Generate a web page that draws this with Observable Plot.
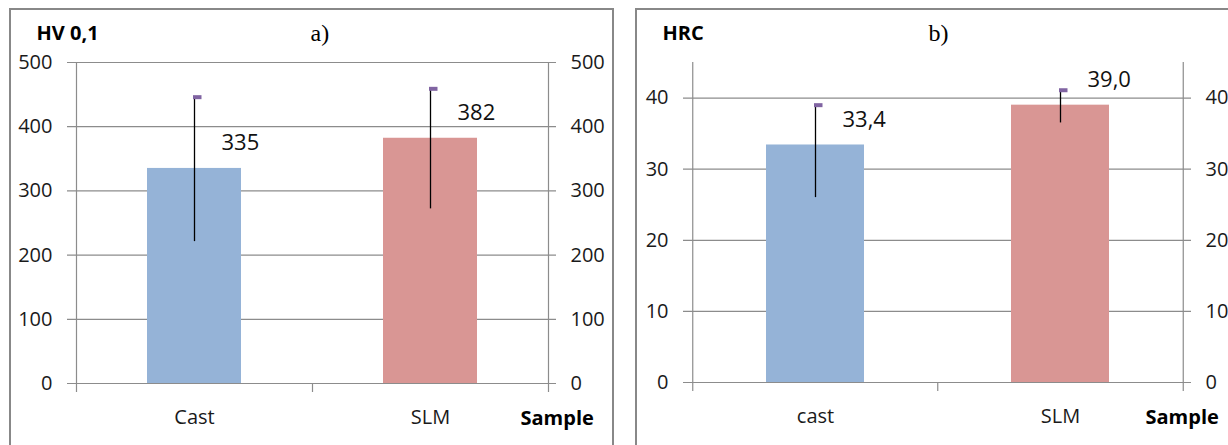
<!DOCTYPE html>
<html><head><meta charset="utf-8">
<script src="https://cdn.jsdelivr.net/npm/d3@7"></script>
<script src="https://cdn.jsdelivr.net/npm/@observablehq/plot@0.6"></script>
<style>
html,body{margin:0;padding:0;background:#fff;overflow:hidden;width:1228px;height:445px;}
#wrap{position:relative;width:1228px;height:445px;overflow:hidden;}
.panel{position:absolute;border:2px solid #888;box-sizing:border-box;}
.chart{position:absolute;top:0;}
</style></head><body>
<div id="wrap">
  <div class="panel" style="left:9px;top:8px;width:605px;height:470px"></div>
  <div class="panel" style="left:635px;top:8px;width:640px;height:470px"></div>
  <div id="a" class="chart" style="left:0px"></div>
  <div id="b" class="chart" style="left:620px"></div>
</div>
<script>
// ---- data: panel a) HV 0,1 ----
const catsA = ["Cast", "SLM"];
const hvValues = [335, 382];
const hvLow = [221, 272];
const hvHigh = [446, 459];
const hvTicks = [0, 100, 200, 300, 400, 500];

// ---- data: panel b) HRC ----
const catsB = ["cast", "SLM"];
const hrcValues = [33.4, 39.0];
const hrcLow = [26.0, 36.5];
const hrcHigh = [39.0, 41.1];
const hrcTicks = [0, 10, 20, 30, 40];

const barColors = ["#95B3D7", "#D99694"];
const gridColor = "#8c8c8c";
const capColor = "#8064A2";
const font = "'Open Sans', sans-serif";

const capSymbol = {draw(ctx) { ctx.rect(-1.5, -2, 8.5, 4); }};

function panel(o) {
  const data = o.cats.map((c, i) => ({cat: c, v: o.vals[i], lo: o.lows[i], hi: o.highs[i], label: o.fmt(o.vals[i]), color: barColors[i]}));
  const plotW = o.width - o.marginLeft - o.marginRight;
  const step = plotW / o.cats.length;
  return Plot.plot({
    width: o.width, height: 445,
    marginLeft: o.marginLeft, marginRight: o.marginRight, marginTop: o.marginTop, marginBottom: o.marginBottom,
    style: {fontFamily: font, fontSize: "20px", background: "transparent", overflow: "visible", color: "#1a1a1a"},
    x: {domain: o.cats, paddingInner: 0.6, paddingOuter: 0.3, axis: null},
    y: {domain: [0, o.yMax], axis: null},
    marks: [
      Plot.ruleY(o.ticks, {y: d => d, stroke: gridColor, strokeWidth: 1.2, insetLeft: -9, insetRight: -8}),
      Plot.ruleX([o.cats[0]], {x: d => d, dx: -step / 2, y1: o.yMax, y2: 0, insetBottom: -9, stroke: gridColor, strokeWidth: 1.2}),
      Plot.ruleX([o.cats[o.cats.length - 1]], {x: d => d, dx: step / 2, y1: o.yMax, y2: 0, insetBottom: -9, stroke: gridColor, strokeWidth: 1.2}),
      Plot.ruleX(o.cats.slice(1), {x: d => d, dx: -step / 2, y1: 0, y2: 0, insetBottom: -9, stroke: gridColor, strokeWidth: 1.2}),
      Plot.barY(data, {x: "cat", y: "v", fill: "color"}),
      Plot.ruleX(data, {x: "cat", y1: "hi", y2: "lo", stroke: "#000", strokeWidth: 1.3}),
      Plot.dot(data, {x: "cat", y: "hi", symbol: capSymbol, fill: capColor, stroke: null, r: 3}),
      Plot.text(data, {x: "cat", y: "v", text: "label", textAnchor: "start", lineAnchor: "middle", dx: 27, dy: -25, fontSize: 22, fill: "#111"}),
      Plot.text(o.ticks, {y: d => d, text: d => String(d), frameAnchor: "left", textAnchor: "end", lineAnchor: "middle", dx: -24, fill: "#1a1a1a"}),
      Plot.text(o.ticks, {y: d => d, text: d => String(d), frameAnchor: "right", textAnchor: "start", lineAnchor: "middle", dx: 22, fill: "#1a1a1a"}),
      Plot.text(o.cats, {x: d => d, text: d => d, frameAnchor: "bottom", lineAnchor: "middle", dy: 34, fill: "#1a1a1a"}),
      Plot.text(["Sample"], {frameAnchor: "bottom-right", textAnchor: "start", lineAnchor: "middle", dx: o.sampleDx, dy: 35, fontWeight: "bold", fill: "#000"}),
      Plot.text([o.yLabel], {frameAnchor: "top-left", textAnchor: "start", lineAnchor: "middle", dx: o.titleDx, dy: o.titleDy, fontWeight: "bold", fill: "#000"}),
      Plot.text([o.letter], {frameAnchor: "top-left", textAnchor: "start", lineAnchor: "middle", dx: o.letterDx, dy: o.titleDy, fontFamily: "'Liberation Serif', serif", fontSize: 24, fill: "#000"})
    ]
  });
}

const fmtInt = d => d3.format("d")(d);
const fmtDec = d => d3.format(".1f")(d).replace(".", ",");

document.getElementById("a").append(panel({
  cats: catsA, vals: hvValues, lows: hvLow, highs: hvHigh, ticks: hvTicks, yMax: 500, fmt: fmtInt,
  yLabel: "HV 0,1", letter: "a)",
  width: 620, marginLeft: 76, marginRight: 72, marginTop: 62, marginBottom: 62,
  sampleDx: -28, titleDx: -40, titleDy: -29, letterDx: 234
}));

document.getElementById("b").append(panel({
  cats: catsB, vals: hrcValues, lows: hrcLow, highs: hrcHigh, ticks: hrcTicks, yMax: 45, fmt: fmtDec,
  yLabel: "HRC", letter: "b)",
  width: 608, marginLeft: 72, marginRight: 45, marginTop: 62, marginBottom: 63,
  sampleDx: -38, titleDx: -30, titleDy: -29, letterDx: 236
}));
</script>
</body></html>
